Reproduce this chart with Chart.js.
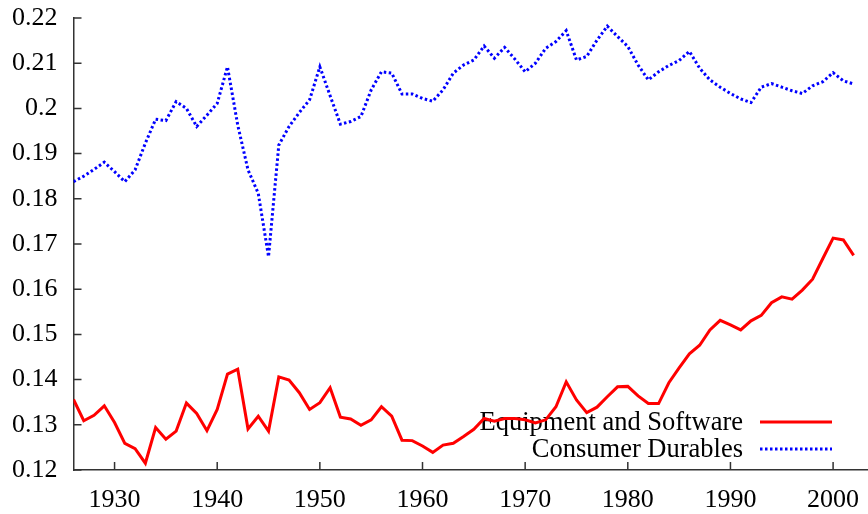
<!DOCTYPE html>
<html>
<head>
<meta charset="utf-8">
<script src="https://cdn.jsdelivr.net/npm/chart.js@4.4.0/dist/chart.umd.min.js"></script>
<style>
  html, body { margin: 0; padding: 0; background: #fff; }
  canvas { display: block; }
</style>
</head>
<body>
<canvas id="shares" width="868" height="514"></canvas>
<script>
var years = [1926, 1927, 1928, 1929, 1930, 1931, 1932, 1933, 1934, 1935,
    1936, 1937, 1938, 1939, 1940, 1941, 1942, 1943, 1944, 1945,
    1946, 1947, 1948, 1949, 1950, 1951, 1952, 1953, 1954, 1955,
    1956, 1957, 1958, 1959, 1960, 1961, 1962, 1963, 1964, 1965,
    1966, 1967, 1968, 1969, 1970, 1971, 1972, 1973, 1974, 1975,
    1976, 1977, 1978, 1979, 1980, 1981, 1982, 1983, 1984, 1985,
    1986, 1987, 1988, 1989, 1990, 1991, 1992, 1993, 1994, 1995,
    1996, 1997, 1998, 1999, 2000, 2001, 2002];

var equipment = [0.1356, 0.1309, 0.1321, 0.1342, 0.1305, 0.1259, 0.1247, 0.1215, 0.1294, 0.1268,
    0.1286, 0.1348, 0.1325, 0.1287, 0.1334, 0.1412, 0.1423, 0.1291, 0.1319, 0.1286,
    0.1406, 0.1399, 0.1371, 0.1334, 0.1349, 0.1382, 0.1317, 0.1313, 0.1299, 0.1311,
    0.1340, 0.1319, 0.1266, 0.1265, 0.1253, 0.1239, 0.1255, 0.1259, 0.1274, 0.1290,
    0.1314, 0.1308, 0.1314, 0.1314, 0.1311, 0.1304, 0.1311, 0.1340, 0.1395, 0.1355,
    0.1327, 0.1339, 0.1362, 0.1384, 0.1385, 0.1364, 0.1347, 0.1347, 0.1393, 0.1426,
    0.1457, 0.1476, 0.1510, 0.1531, 0.1521, 0.1510, 0.1530, 0.1542, 0.1570, 0.1583,
    0.1578, 0.1598, 0.1622, 0.1668, 0.1713, 0.1709, 0.1675];

var durables = [0.1838, 0.1850, 0.1865, 0.1881, 0.1860, 0.1838, 0.1864, 0.1923, 0.1976, 0.1973,
    0.2015, 0.2000, 0.1960, 0.1985, 0.2011, 0.2092, 0.1963, 0.1864, 0.1812, 0.1672,
    0.1919, 0.1960, 0.1991, 0.2019, 0.2092, 0.2028, 0.1965, 0.1971, 0.1982, 0.2041,
    0.2081, 0.2078, 0.2032, 0.2032, 0.2022, 0.2016, 0.2041, 0.2078, 0.2096, 0.2107,
    0.2138, 0.2111, 0.2135, 0.2109, 0.2081, 0.2100, 0.2133, 0.2148, 0.2172, 0.2107,
    0.2115, 0.2151, 0.2182, 0.2159, 0.2137, 0.2096, 0.2063, 0.2081, 0.2095, 0.2106,
    0.2126, 0.2089, 0.2063, 0.2047, 0.2033, 0.2021, 0.2013, 0.2047, 0.2055, 0.2047,
    0.2039, 0.2033, 0.2050, 0.2059, 0.2079, 0.2061, 0.2054];

var seriesNames = ['Equipment and Software', 'Consumer Durables'];
var xTicks = [1930, 1940, 1950, 1960, 1970, 1980, 1990, 2000];
var yTicks = [0.12, 0.13, 0.14, 0.15, 0.16, 0.17, 0.18, 0.19, 0.2, 0.21, 0.22];

var serif = "'Liberation Serif', 'Times New Roman', serif";

function points(vals) {
    return years.map(function(y, i) { return { x: y, y: vals[i] }; });
}

// gnuplot style: tick marks pointing into the plot
var innerTicks = {
    id: 'innerTicks',
    afterDraw: function(chart) {
        var ctx = chart.ctx, a = chart.chartArea;
        var sx = chart.scales.x, sy = chart.scales.y;
        ctx.save();
        ctx.strokeStyle = '#333';
        ctx.lineWidth = 1.5;
        ctx.beginPath();
        xTicks.forEach(function(v) {
            var px = sx.getPixelForValue(v);
            ctx.moveTo(px, a.bottom);
            ctx.lineTo(px, a.bottom - 8);
        });
        yTicks.forEach(function(v) {
            var py = sy.getPixelForValue(v);
            ctx.moveTo(a.left, py);
            ctx.lineTo(a.left + 8, py);
        });
        ctx.stroke();
        ctx.restore();
    }
};

// key in the lower right: text right aligned, sample line after it
var keyBox = {
    id: 'keyBox',
    beforeDatasetsDraw: function(chart) {
        var ctx = chart.ctx;
        ctx.save();
        ctx.font = '26.5px ' + serif;
        ctx.fillStyle = '#000';
        ctx.textAlign = 'right';
        ctx.textBaseline = 'middle';
        chart.data.datasets.forEach(function(ds, i) {
            var y = 422 + i * 27;
            ctx.fillText(ds.label, 743, y + 1);
            ctx.strokeStyle = ds.borderColor;
            ctx.lineWidth = ds.borderWidth;
            ctx.setLineDash(ds.borderDash || []);
            ctx.beginPath();
            ctx.moveTo(760, y);
            ctx.lineTo(832, y);
            ctx.stroke();
        });
        ctx.restore();
    }
};

new Chart(document.getElementById('shares').getContext('2d'), {
    type: 'line',
    data: {
        datasets: [{
            label: seriesNames[0],
            data: points(equipment),
            borderColor: '#ff0000',
            borderWidth: 3,
            pointRadius: 0,
            tension: 0
        }, {
            label: seriesNames[1],
            data: points(durables),
            borderColor: '#0000ff',
            borderWidth: 3,
            borderDash: [2.5, 2.5],
            pointRadius: 0,
            tension: 0
        }]
    },
    options: {
        responsive: false,
        animation: false,
        layout: { padding: { top: 18, right: 0, left: 0, bottom: 0 } },
        plugins: {
            legend: { display: false },
            tooltip: { enabled: false }
        },
        scales: {
            x: {
                type: 'linear',
                min: 1926,
                max: 2003.4,
                afterBuildTicks: function(s) {
                    s.ticks = xTicks.map(function(v) { return { value: v }; });
                },
                afterFit: function(s) {
                    s.height = 44;
                    s.paddingLeft = 0;
                    s.paddingRight = 0;
                },
                grid: { display: false, drawTicks: false },
                border: { display: true, color: '#333', width: 1.5 },
                ticks: {
                    color: '#000',
                    font: { family: serif, size: 26 },
                    padding: 15,
                    maxRotation: 0,
                    callback: function(v) { return String(v); }
                }
            },
            y: {
                min: 0.12,
                max: 0.22,
                afterBuildTicks: function(s) {
                    s.ticks = yTicks.map(function(v) { return { value: v }; });
                },
                afterFit: function(s) {
                    s.width = 73.5;
                    s.paddingTop = 0;
                    s.paddingBottom = 0;
                },
                grid: { display: false, drawTicks: false },
                border: { display: true, color: '#333', width: 1.5 },
                ticks: {
                    color: '#000',
                    font: { family: serif, size: 26 },
                    padding: 16,
                    callback: function(v) { return String(Number(v.toFixed(2))); }
                }
            }
        }
    },
    plugins: [innerTicks, keyBox]
});
</script>
</body>
</html>
